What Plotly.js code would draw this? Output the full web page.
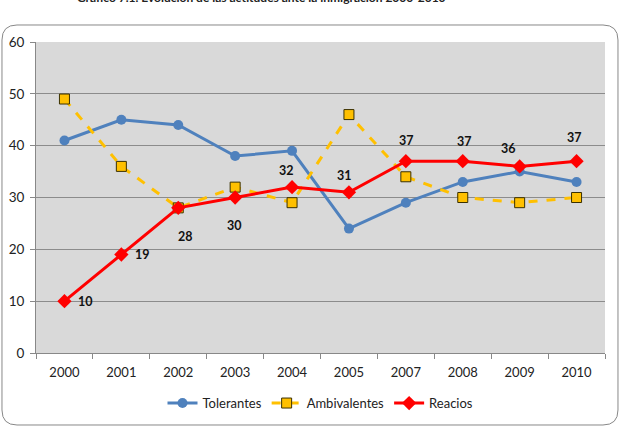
<!DOCTYPE html>
<html><head><meta charset="utf-8">
<script src="https://cdn.plot.ly/plotly-3.0.1.min.js"></script>
<style>html,body{margin:0;padding:0;background:#fff}#c{width:621px;height:427px}</style>
</head><body><div id="c"></div>
<script>
var years = ['2000','2001','2002','2003','2004','2005','2007','2008','2009','2010'];
var tolerantes = [41,45,44,38,39,24,29,33,35,33];
var ambivalentes = [49,36,28,32,29,46,34,30,29,30];
var reacios = [10,19,28,30,32,31,37,37,36,37];
var labelShiftX = [21,21,7,-1,-6,-4,1,2,-11,-2];
var labelShiftY = [0,0,-29,-28,17,17,21,20,18,24];

var font = 'Lato, "Open Sans", sans-serif';
var traces = [
 {x:years,y:tolerantes,name:'Tolerantes',type:'scatter',mode:'lines+markers',
  line:{color:'#4F81BD',width:3},marker:{symbol:'circle',size:10,color:'#4F81BD'}},
 {x:years,y:ambivalentes,name:'Ambivalentes',type:'scatter',mode:'lines+markers',
  line:{color:'#FFC000',width:3,dash:'dash'},marker:{symbol:'square',size:10,color:'#FFC000',line:{color:'#3a3000',width:1}}},
 {x:years,y:reacios,name:'Reacios',type:'scatter',mode:'lines+markers',
  line:{color:'#FF0000',width:3},marker:{symbol:'diamond',size:11,color:'#FF0000'}}
];
var ann = reacios.map(function(v,i){return {xref:'x',yref:'y',x:i,y:v,text:'<b>'+v+'</b>',showarrow:false,
  xshift:labelShiftX[i],yshift:labelShiftY[i],font:{family:font,size:12.5,color:'#111'}};});
ann.push({xref:'paper',yref:'paper',x:0.397,y:1.1125,yanchor:'bottom',showarrow:false,
  text:'<b>Gráfico 7.1. Evolución de las actitudes ante la inmigración 2000-2010</b>',font:{family:font,size:12,color:'#222'}});
var rx=15/569, ry=15/311, L=-0.0598, R=1.0228, T=1.0547, B=-0.2315;
var path='M '+(L+rx)+' '+T+' L '+(R-rx)+' '+T+' Q '+R+' '+T+' '+R+' '+(T-ry)+
 ' L '+R+' '+(B+ry)+' Q '+R+' '+B+' '+(R-rx)+' '+B+' L '+(L+rx)+' '+B+' Q '+L+' '+B+' '+L+' '+(B+ry)+
 ' L '+L+' '+(T-ry)+' Q '+L+' '+T+' '+(L+rx)+' '+T+' Z';
var layout = {
 width:621,height:427,margin:{l:36,r:16,t:42,b:74,autoexpand:false},
 paper_bgcolor:'#fff',plot_bgcolor:'#D9D9D9',
 font:{family:font,size:13,color:'#333'},
 showlegend:true,
 legend:{orientation:'h',x:0.5,xanchor:'center',yref:'container',y:0.056,yanchor:'middle',font:{family:font,size:13,color:'#222'},itemwidth:30},
 xaxis:{type:'category',automargin:false,showgrid:false,showline:true,linecolor:'#888',linewidth:1,ticks:'outside',tickson:'boundaries',
  ticklen:5,tickcolor:'#888',ticklabelstandoff:7,tickfont:{family:font,size:13,color:'#222'},range:[-0.5,9.5],fixedrange:true},
 yaxis:{range:[0,60],automargin:false,dtick:10,showgrid:true,gridcolor:'#8c8c8c',gridwidth:1,showline:true,linecolor:'#888',
  ticks:'outside',ticklen:5,tickcolor:'#888',ticklabelstandoff:3,zeroline:false,tickfont:{family:font,size:13.5,color:'#222'}},
 annotations:ann,
 shapes:[{type:'path',xref:'paper',yref:'paper',path:path,line:{color:'#888',width:1},fillcolor:'rgba(0,0,0,0)',layer:'below'}]
};
Plotly.newPlot('c',traces,layout,{displayModeBar:false,staticPlot:true});
</script></body></html>
